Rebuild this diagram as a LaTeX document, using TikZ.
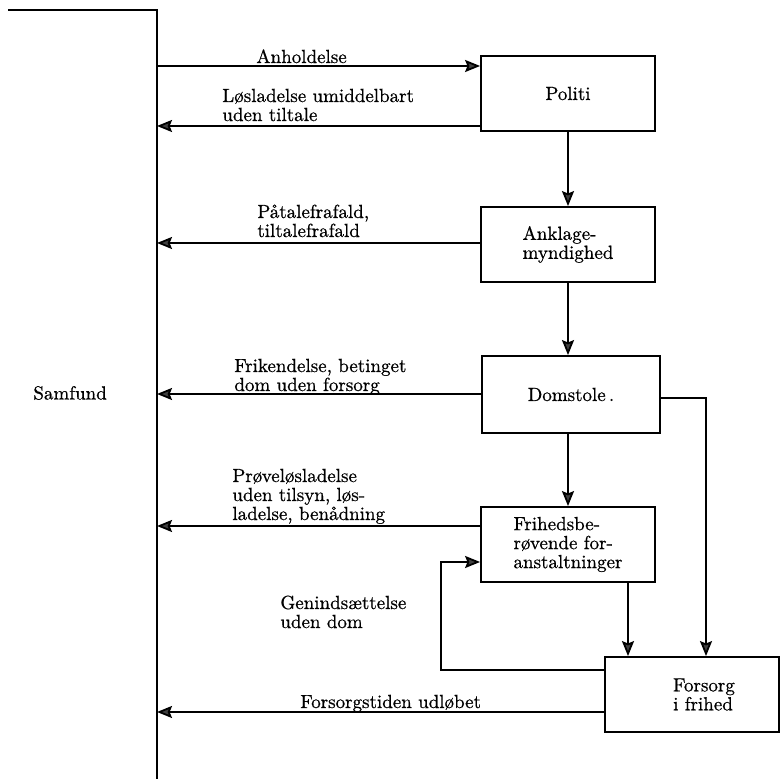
\documentclass[tikz,border=0pt]{standalone}
\usepackage{fontspec}
\newfontfamily\dkfont{lmroman10-regular.otf}[FakeBold=0.7]
\usetikzlibrary{arrows.meta}
\begin{document}
\begin{tikzpicture}[x=0.5pt,y=-0.5pt,
  every node/.style={font=\dkfont\fontsize{9.5}{9.5}\selectfont},
  box/.style={draw,line width=0.9pt,minimum width=87pt,minimum height=37.5pt,align=left,inner sep=0pt},
  lbl/.style={anchor=base west,align=left,inner sep=0pt},
  ln/.style={line width=0.9pt},
  arr/.style={ln,-{Stealth[length=7.5pt,width=6pt,inset=1.2pt,fill=black!75]}}]
\useasboundingbox (0,0) rectangle (782,779);
% Samfund line
\coordinate (top0) at (8,10);
\coordinate (top1) at (157,10);
\coordinate (bot) at (157,779);
\draw[line width=1.1pt] (top0) -- (top1) -- (bot);
\node[anchor=west,inner sep=0pt] (samfund) at (33,393) {Samfund};
% boxes
\node[box] (politi) at (568,93.5) {Politi};
\node[box] (ankl) at (568,244.5) {Anklage-\\myndighed};
\node[box,minimum width=89pt,minimum height=38.5pt] (dom) at (571,394.5) {Domstole\,.};
\node[box] (frih) at (568,544.5) {Frihedsbe-\\r\o vende for-\\anstaltninger};
\node[box] (fors) at (692,694.5) {\hspace*{12pt}Forsorg\\\hspace*{12pt}i frihed};
% coordinates on the Samfund line
\coordinate (s1) at (157,66);
\coordinate (s2) at (157,126);
\coordinate (s3) at (157,243);
\coordinate (s4) at (157,394);
\coordinate (s5) at (157,526);
\coordinate (s6) at (157,712);
% horizontal connectors
\draw[arr] (s1) -- (s1 -| politi.west);
\draw[arr] (s2 -| politi.west) -- (s2);
\draw[arr] (s3 -| ankl.west) -- (s3);
\draw[arr] (s4 -| dom.west) -- (s4);
\draw[arr] (s5 -| frih.west) -- (s5);
\draw[arr] (s6 -| fors.west) -- (s6);
% vertical connectors
\draw[arr] (politi.south) -- (ankl.north);
\draw[arr] (ankl.south) -- (ankl.south |- dom.north);
\draw[arr] (ankl.south |- dom.south) -- (frih.north);
\coordinate (r1) at (706,398);
\draw[arr] (r1 -| dom.east) -- (r1) -- (r1 |- fors.north);
\coordinate (f1) at (628,0);
\draw[arr] (f1 |- frih.south) -- (f1 |- fors.north);
% loop
\coordinate (g1) at (441,670);
\coordinate (g2) at (441,562);
\draw[arr] (g1 -| fors.west) -- (g1) -- (g2) -- (g2 -| frih.west);
% labels
\node[lbl] (l1) at (256,63) {Anholdelse};
\node[lbl] (l2) at (222,121) {L\o sladelse umiddelbart\\uden tiltale};
\node[lbl] (l3) at (257,237) {P\aa talefrafald,\\tiltalefrafald};
\node[lbl] (l4) at (234,391) {Frikendelse, betinget\\dom uden forsorg};
\node[lbl] (l5) at (232,520) {Pr\o vel\o sladelse\\uden tilsyn, l\o s-\\ladelse, ben\aa dning};
\node[lbl] (l6) at (280,628) {Geninds\ae ttelse\\uden dom};
\node[lbl] (l7) at (300,708) {Forsorgstiden udl\o bet};
\end{tikzpicture}
\end{document}
